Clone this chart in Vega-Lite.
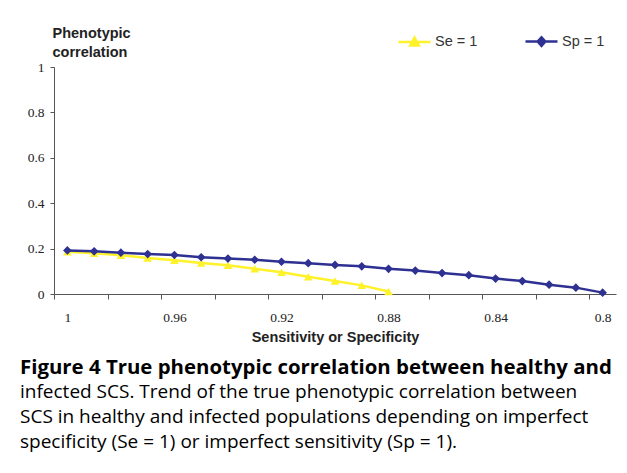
{
  "$schema": "https://vega.github.io/schema/vega-lite/v6.json",
  "width": 562,
  "height": 227,
  "autosize": {"type": "none"},
  "padding": {"left": 54, "top": 67, "right": 11, "bottom": 179},
  "background": "white",
  "config": {"view": {"stroke": null}, "font": "Liberation Sans"},
  "title": {
    "text": "Figure 4 True phenotypic correlation between healthy and",
    "subtitle": ["infected SCS. Trend of the true phenotypic correlation between", "SCS in healthy and infected populations depending on imperfect", "specificity (Se = 1) or imperfect sensitivity (Sp = 1)."],
    "orient": "bottom",
    "anchor": "start",
    "frame": "group",
    "dx": -34,
    "offset": 14,
    "font": "Open Sans",
    "fontSize": 20.4,
    "fontWeight": "bold",
    "color": "black",
    "subtitleFont": "Open Sans",
    "subtitleFontSize": 19,
    "subtitleFontWeight": "normal",
    "subtitleColor": "black",
    "subtitleLineHeight": 25.3,
    "subtitlePadding": 5
  },
  "data": {
    "values": [
      {"v": 1.00, "series": "Se = 1", "r": 0.186},
      {"v": 0.99, "series": "Se = 1", "r": 0.179},
      {"v": 0.98, "series": "Se = 1", "r": 0.171},
      {"v": 0.97, "series": "Se = 1", "r": 0.159},
      {"v": 0.96, "series": "Se = 1", "r": 0.149},
      {"v": 0.95, "series": "Se = 1", "r": 0.137},
      {"v": 0.94, "series": "Se = 1", "r": 0.127},
      {"v": 0.93, "series": "Se = 1", "r": 0.111},
      {"v": 0.92, "series": "Se = 1", "r": 0.096},
      {"v": 0.91, "series": "Se = 1", "r": 0.076},
      {"v": 0.90, "series": "Se = 1", "r": 0.057},
      {"v": 0.89, "series": "Se = 1", "r": 0.038},
      {"v": 0.88, "series": "Se = 1", "r": 0.011},
      {"v": 1.00, "series": "Sp = 1", "r": 0.192},
      {"v": 0.99, "series": "Sp = 1", "r": 0.188},
      {"v": 0.98, "series": "Sp = 1", "r": 0.182},
      {"v": 0.97, "series": "Sp = 1", "r": 0.176},
      {"v": 0.96, "series": "Sp = 1", "r": 0.172},
      {"v": 0.95, "series": "Sp = 1", "r": 0.162},
      {"v": 0.94, "series": "Sp = 1", "r": 0.156},
      {"v": 0.93, "series": "Sp = 1", "r": 0.151},
      {"v": 0.92, "series": "Sp = 1", "r": 0.142},
      {"v": 0.91, "series": "Sp = 1", "r": 0.136},
      {"v": 0.90, "series": "Sp = 1", "r": 0.128},
      {"v": 0.89, "series": "Sp = 1", "r": 0.122},
      {"v": 0.88, "series": "Sp = 1", "r": 0.111},
      {"v": 0.87, "series": "Sp = 1", "r": 0.103},
      {"v": 0.86, "series": "Sp = 1", "r": 0.092},
      {"v": 0.85, "series": "Sp = 1", "r": 0.083},
      {"v": 0.84, "series": "Sp = 1", "r": 0.068},
      {"v": 0.83, "series": "Sp = 1", "r": 0.057},
      {"v": 0.82, "series": "Sp = 1", "r": 0.041},
      {"v": 0.81, "series": "Sp = 1", "r": 0.028},
      {"v": 0.80, "series": "Sp = 1", "r": 0.006}
    ]
  },
  "encoding": {
    "x": {
      "field": "v",
      "type": "quantitative",
      "scale": {"domain": [0.795, 1.005], "reverse": true, "nice": false, "zero": false},
      "axis": {
        "title": "Sensitivity or Specificity",
        "titleFont": "Liberation Sans",
        "titleFontSize": 14.5,
        "titleFontWeight": "bold",
        "titleColor": "#222222",
        "titleY": 43,
        "titleBaseline": "middle",
        "values": [1.005, 0.985, 0.965, 0.945, 0.925, 0.905, 0.885, 0.865, 0.845, 0.825, 0.805],
        "labelExpr": "round((1.005 - datum.value) / 0.02) % 2 == 0 ? format(datum.value - 0.005, '.2~f') : ''",
        "labelOffset": 13.4,
        "labelFlush": false,
        "labelOverlap": false,
        "labelFont": "Liberation Serif",
        "labelFontSize": 13.5,
        "labelColor": "#222222",
        "labelPadding": 11,
        "tickSize": 5,
        "tickColor": "#555555",
        "domainColor": "#555555",
        "grid": false
      }
    },
    "y": {
      "field": "r",
      "type": "quantitative",
      "scale": {"domain": [0, 1], "nice": false},
      "axis": {
        "title": ["Phenotypic", "correlation"],
        "titleFont": "Liberation Sans",
        "titleFontSize": 14.5,
        "titleFontWeight": "bold",
        "titleColor": "#222222",
        "titleAngle": 0,
        "titleAlign": "left",
        "titleBaseline": "top",
        "titleX": -2,
        "titleY": -41,
        "titleLineHeight": 19,
        "values": [0, 0.2, 0.4, 0.6, 0.8, 1],
        "format": ".1~f",
        "labelFont": "Liberation Serif",
        "labelFontSize": 13.5,
        "labelColor": "#222222",
        "labelPadding": 6,
        "tickSize": 4,
        "tickColor": "#555555",
        "domainColor": "#555555",
        "grid": false
      }
    },
    "color": {
      "field": "series",
      "type": "nominal",
      "scale": {"domain": ["Se = 1", "Sp = 1"], "range": ["#FFF22A", "#2E3192"]},
      "legend": {
        "orient": "none",
        "legendX": 343,
        "legendY": -43,
        "direction": "horizontal",
        "title": null,
        "padding": 0,
        "labelFont": "Liberation Sans",
        "labelFontSize": 14.5,
        "labelColor": "#333333",
        "labelOffset": 3,
        "columnPadding": 42,
        "symbolSize": 1024,
        "encode": {
          "symbols": {
            "update": {
              "shape": {"signal": "datum.value === 'Se = 1' ? 'M-1,0H1M-0.27,0.22L0,-0.27L0.27,0.22Z' : 'M-1,0H1M0,-0.27L0.24,0L0,0.27L-0.24,0Z'"},
              "fill": {"signal": "scale('color', datum.value)"},
              "stroke": {"signal": "scale('color', datum.value)"},
              "strokeWidth": {"value": 2.5},
              "opacity": {"value": 1},
              "fillOpacity": {"value": 1},
              "strokeOpacity": {"value": 1}
            }
          }
        }
      }
    }
  },
  "layer": [
    {
      "mark": {"type": "line", "strokeWidth": 2.5}
    },
    {
      "transform": [{"filter": "datum.series === 'Se = 1'"}],
      "mark": {"type": "point", "filled": true, "size": 75, "opacity": 1, "shape": "triangle-up"}
    },
    {
      "transform": [{"filter": "datum.series === 'Sp = 1'"}],
      "mark": {"type": "point", "filled": true, "size": 75, "opacity": 1, "shape": "diamond"}
    }
  ]
}
